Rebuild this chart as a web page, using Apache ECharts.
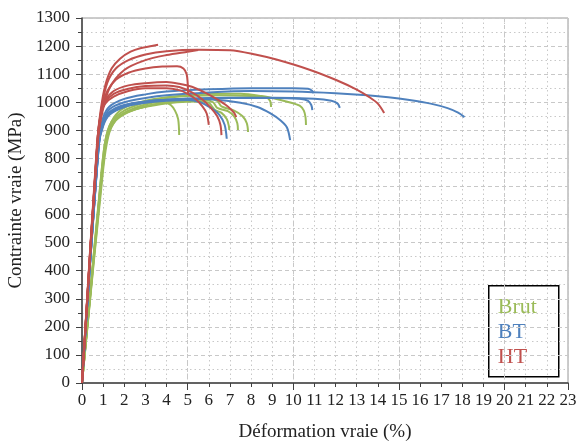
<!DOCTYPE html>
<html>
<head>
<meta charset="utf-8">
<script src="https://cdn.jsdelivr.net/npm/echarts@6/dist/echarts.min.js"></script>
<style>html,body{margin:0;padding:0;background:#fff}#c{width:577px;height:441px}</style>
</head>
<body>
<div id="c"></div>
<script>
// ---- data: [true strain (%), true stress (MPa)] ----
const groups = ['Brut', 'BT', 'HT'];
const groupColors = ['#9BBB59', '#4F81BD', '#C0504D'];
const xTicks = [0, 23, 1];      // min, max, step
const yTicks = [0, 1300, 100];  // min, max, step

const brut1 = [[0,0],[0.9,720],[1.1,840],[1.3,900],[1.6,940],[2,962],[2.5,980],[3,992],[3.5,1000],[3.9,1000],[4.2,990],[4.4,970],[4.55,940],[4.6,883]];
const brut2 = [[0,0],[0.95,740],[1.15,860],[1.4,915],[1.8,950],[2.5,975],[3.5,990],[4.5,1000],[5.5,1003],[6.0,998],[6.15,985],[6.3,972],[6.6,962],[6.85,940],[6.95,915],[6.97,901]];
const brut3 = [[0,0],[0.95,750],[1.2,880],[1.5,930],[2,960],[3,985],[4,998],[5,1005],[5.8,1008],[6.2,1000],[6.4,980],[6.9,968],[7.2,950],[7.35,925],[7.38,901]];
const brut4 = [[0,0],[1.0,760],[1.25,880],[1.6,935],[2.2,965],[3,985],[4,1000],[5,1010],[6,1012],[6.4,1005],[6.6,985],[7.2,970],[7.6,950],[7.8,925],[7.86,894]];
const brut5 = [[0,0],[0.9,730],[1.1,860],[1.4,930],[2,970],[3,1000],[4,1015],[5,1022],[6.5,1025],[8,1022],[8.7,1018],[8.9,1005],[8.95,983]];
const brut6 = [[0,0],[0.92,750],[1.15,880],[1.5,945],[2,980],[3,1005],[4,1018],[5,1025],[6,1030],[7.5,1030],[8.5,1022],[9.3,1010],[9.9,998],[10.3,988],[10.5,970],[10.58,945],[10.6,919]];

const bt1 = [[0,0],[0.8,860],[1.0,930],[1.3,975],[2,1000],[3,1015],[4,1025],[6,1035],[8,1040],[10,1038],[12,1032],[13.5,1025],[14.5,1018],[15.5,1008],[16.5,995],[17.3,979],[17.8,963],[18.1,947]];
const bt2 = [[0,0],[0.8,870],[1.0,945],[1.3,985],[2,1012],[3,1028],[4,1038],[6,1046],[8,1050],[10,1050],[10.7,1048],[10.9,1040],[10.95,1032]];
const bt3 = [[0,0],[0.8,860],[1.0,925],[1.3,965],[2,990],[3,1003],[5,1012],[7,1015],[9,1015],[10.3,1012],[10.7,1005],[10.85,990],[10.9,972]];
const bt4 = [[0,0],[0.8,855],[1.0,925],[1.3,960],[2,988],[3,1002],[5,1012],[7,1016],[9,1016],[11,1012],[11.8,1005],[12.1,995],[12.2,980]];
const bt5 = [[0,0],[0.8,850],[1.0,920],[1.3,958],[2,985],[3,1000],[4,1008],[5,1012],[6.2,1010],[7.5,998],[8.3,983],[8.9,961],[9.4,935],[9.7,910],[9.85,865]];
const bt6 = [[0,0],[0.8,850],[1.0,915],[1.3,955],[2,983],[3,998],[4,1005],[5,1008],[5.6,1000],[6.1,980],[6.5,955],[6.75,920],[6.85,870]];

const ht1 = [[0,0],[0.75,880],[0.9,980],[1.1,1060],[1.4,1120],[1.8,1155],[2.3,1180],[2.8,1193],[3.3,1200],[3.6,1205]];
const ht2 = [[0,0],[0.75,880],[0.95,990],[1.2,1070],[1.6,1120],[2.2,1150],[3,1170],[4,1182],[5.5,1187],[7,1185],[8.2,1170],[9.2,1152],[10.8,1115],[12,1080],[13,1045],[13.6,1018],[14.0,995],[14.3,962]];
const ht3 = [[0,0],[0.75,880],[0.95,980],[1.2,1040],[1.6,1080],[2.2,1105],[3,1120],[3.8,1127],[4.5,1128],[4.8,1120],[4.95,1100],[5.0,1070],[5.02,1030]];
const ht4 = [[0,0],[0.75,870],[0.95,960],[1.3,1050],[2,1115],[3,1150],[4,1168],[5,1180],[5.5,1186]];
const ht5 = [[0,0],[0.7,820],[0.9,950],[1.1,1005],[1.5,1040],[2.2,1060],[3,1068],[4,1072],[4.6,1066],[5.2,1055],[5.8,1035],[6.4,1010],[6.9,985],[7.2,962],[7.3,947]];
const ht6 = [[0,0],[0.7,830],[0.9,955],[1.1,1000],[1.5,1030],[2.2,1048],[3,1058],[4,1060],[4.6,1054],[5.2,1035],[5.7,1010],[6.1,980],[6.4,950],[6.55,920],[6.6,883]];
const ht7 = [[0,0],[0.7,840],[0.9,960],[1.1,995],[1.5,1020],[2.2,1040],[3,1050],[4,1050],[4.6,1043],[5.0,1030],[5.4,1010],[5.7,985],[5.9,960],[6.0,919]];

const curves = [
  [brut1, brut2, brut3, brut4, brut5, brut6],
  [bt1, bt2, bt3, bt4, bt5, bt6],
  [ht1, ht2, ht3, ht4, ht5, ht6, ht7]
];

const FONT = 'Liberation Serif';
const series = [];
curves.forEach((list, gi) => {
  list.forEach(d => {
    series.push({
      type: 'line', name: groups[gi], data: d, showSymbol: false, symbol: 'none',
      smooth: 0.3, lineStyle: { color: groupColors[gi], width: 2 },
      itemStyle: { color: groupColors[gi] }, silent: true
    });
  });
});

const gridColor = '#c8c8c8';
const axisColor = '#404040';

const chart = echarts.init(document.getElementById('c'), null, { renderer: 'canvas' });
chart.setOption({
  animation: false,
  backgroundColor: '#fff',
  grid: { left: 82, right: 9, top: 18, bottom: 58, containLabel: false, outerBoundsMode: 'none',
          show: true, borderColor: '#999', borderWidth: 1, backgroundColor: 'transparent' },
  xAxis: [{
    type: 'value', min: xTicks[0], max: xTicks[1], interval: xTicks[2], position: 'bottom',
    name: 'Déformation vraie (%)', nameLocation: 'middle', nameGap: 40,
    nameTextStyle: { fontFamily: FONT, fontSize: 19, color: '#222' },
    axisLine: { show: true, onZero: false, lineStyle: { color: axisColor, width: 1.5 } },
    axisTick: { show: true, length: 4, lineStyle: { color: axisColor, width: 1 } },
    axisLabel: { fontFamily: FONT, fontSize: 17, color: '#222', margin: 9, formatter: v => String(v) },
    splitLine: { show: true, lineStyle: { color: gridColor, type: [1.5, 3], width: 1 } }
  }, {
    type: 'value', min: xTicks[0], max: xTicks[1], interval: 5, position: 'bottom',
    axisLine: { show: false, onZero: false },
    axisTick: { show: true, length: 7, lineStyle: { color: axisColor, width: 1 } },
    axisLabel: { show: false },
    splitLine: { show: true, lineStyle: { color: gridColor, type: [4, 3], width: 1 } }
  }],
  yAxis: {
    type: 'value', min: yTicks[0], max: yTicks[1], interval: yTicks[2],
    name: 'Contrainte vraie (MPa)', nameLocation: 'middle', nameGap: 56,
    nameTextStyle: { fontFamily: FONT, fontSize: 19, color: '#222' },
    axisLine: { show: true, onZero: false, lineStyle: { color: axisColor, width: 1.5 } },
    axisTick: { show: true, length: 6, lineStyle: { color: axisColor, width: 1 } },
    minorTick: { show: true, splitNumber: 2, length: 4, lineStyle: { color: axisColor, width: 1 } },
    axisLabel: { fontFamily: FONT, fontSize: 17, color: '#222', margin: 12, formatter: v => String(v) },
    splitLine: { show: true, lineStyle: { color: gridColor, type: [4, 3], width: 1 } },
    minorSplitLine: { show: true, lineStyle: { color: gridColor, type: [1.5, 3], width: 1 } }
  },
  series: series,
  graphic: [{
    type: 'group', left: 488, top: 285, z: 100,
    children: [
      { type: 'rect', shape: { x: 0, y: 0, width: 70, height: 91 }, style: { fill: '#fff', stroke: '#000', lineWidth: 1.5 } },
      { type: 'text', x: 9, y: 21, style: { text: groups[0], fill: groupColors[0], font: '22px "' + FONT + '"', verticalAlign: 'middle' } },
      { type: 'text', x: 9, y: 46, style: { text: groups[1], fill: groupColors[1], font: '22px "' + FONT + '"', verticalAlign: 'middle' } },
      { type: 'text', x: 9, y: 71, style: { text: groups[2], fill: groupColors[2], font: '22px "' + FONT + '"', verticalAlign: 'middle' } }
    ]
  }]
});
</script>
</body>
</html>
